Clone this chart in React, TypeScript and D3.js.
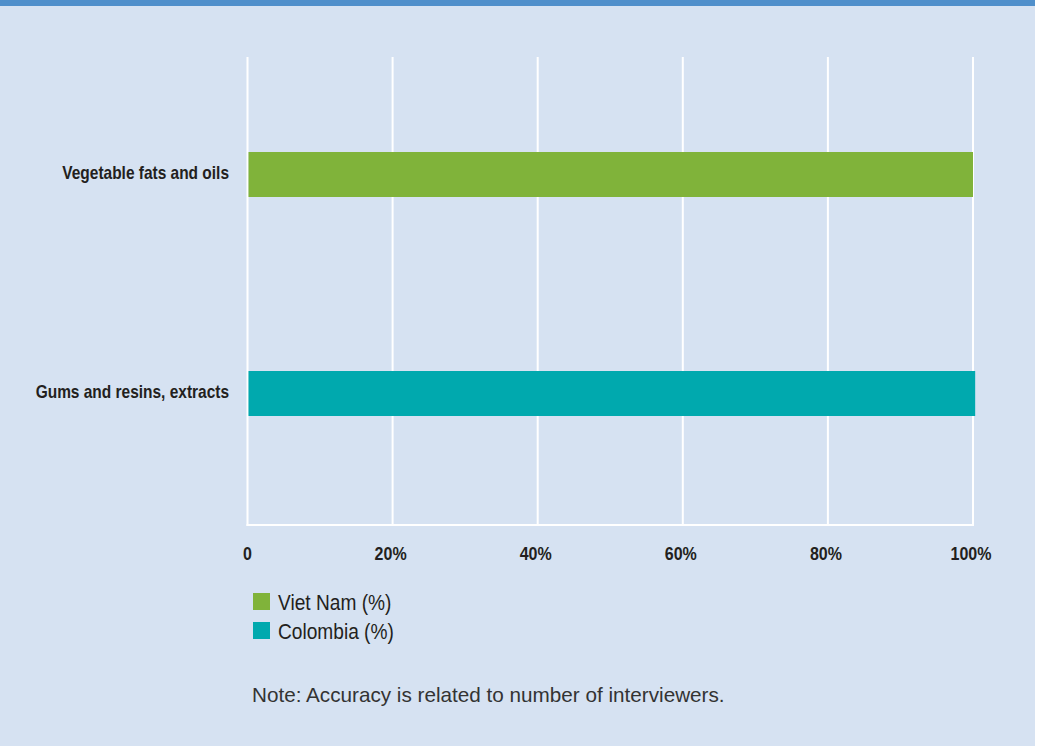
import React from "react";
import * as d3 from "d3";

const categories = ["Vegetable fats and oils", "Gums and resins, extracts"];
const seriesNames = ["Viet Nam (%)", "Colombia (%)"];
const seriesColors = ["#80b33a", "#00a9ae"];
const values = [100, 100.3];
const tickValues = [0, 20, 40, 60, 80, 100];
const tickLabels = ["0", "20%", "40%", "60%", "80%", "100%"];
const noteText = "Note: Accuracy is related to number of interviewers.";

const W = 1038;
const H = 746;
const BG = "#d6e2f2";
const BAND = "#4f8fcb";
const SANS = "'Liberation Sans', Arial, Helvetica, sans-serif";
const NARROW = 0.86;

export default function App() {
  const x = d3.scaleLinear().domain([0, 100]).range([247.5, 973]);
  const y = d3.scalePoint<string>().domain(categories).range([174.5, 393.5]);
  const barH = 45;
  const gridTop = 57;
  const gridBottom = 525;

  return (
    <svg
      width={W}
      height={H}
      style={{ position: "absolute", left: 0, top: 0, display: "block" }}
    >
      <rect x={0} y={0} width={1035} height={H} fill={BG} />
      <rect x={0} y={0} width={1035} height={6} fill={BAND} />

      {tickValues.map((t) => (
        <line
          key={"g" + t}
          x1={x(t)}
          x2={x(t)}
          y1={gridTop}
          y2={gridBottom + 1}
          stroke="#ffffff"
          strokeWidth={2}
        />
      ))}
      <line
        x1={x(0) - 1}
        x2={x(100) + 1}
        y1={gridBottom}
        y2={gridBottom}
        stroke="#ffffff"
        strokeWidth={2}
      />

      {categories.map((c, i) => (
        <rect
          key={"b" + c}
          x={x(0) + 1}
          y={(y(c) as number) - barH / 2}
          width={x(values[i]) - x(0) - 1}
          height={barH}
          fill={seriesColors[i]}
        />
      ))}

      {categories.map((c) => (
        <text
          key={"l" + c}
          transform={`translate(229, ${(y(c) as number) + 4.5}) scale(${NARROW}, 1)`}
          textAnchor="end"
          fontFamily={SANS}
          fontWeight="bold"
          fontSize={18}
          fill="#231f20"
        >
          {c}
        </text>
      ))}

      {tickValues.map((t, i) => (
        <text
          key={"t" + t}
          transform={`translate(${x(t) - (i === 0 ? 0 : 2)}, 560) scale(0.89, 1)`}
          textAnchor="middle"
          fontFamily={SANS}
          fontWeight="bold"
          fontSize={18}
          fill="#231f20"
        >
          {tickLabels[i]}
        </text>
      ))}

      {seriesNames.map((s, i) => (
        <g key={"lg" + s} transform={`translate(253, ${593 + i * 29})`}>
          <rect x={0} y={0} width={17} height={17} fill={seriesColors[i]} />
          <text
            transform="translate(25, 17) scale(0.87, 1)"
            fontFamily={SANS}
            fontSize={22}
            fill="#231f20"
          >
            {s}
          </text>
        </g>
      ))}

      <text
        x={252}
        y={702}
        fontFamily={SANS}
        fontSize={20.7}
        fill="#333333"
      >
        {noteText}
      </text>
    </svg>
  );
}
